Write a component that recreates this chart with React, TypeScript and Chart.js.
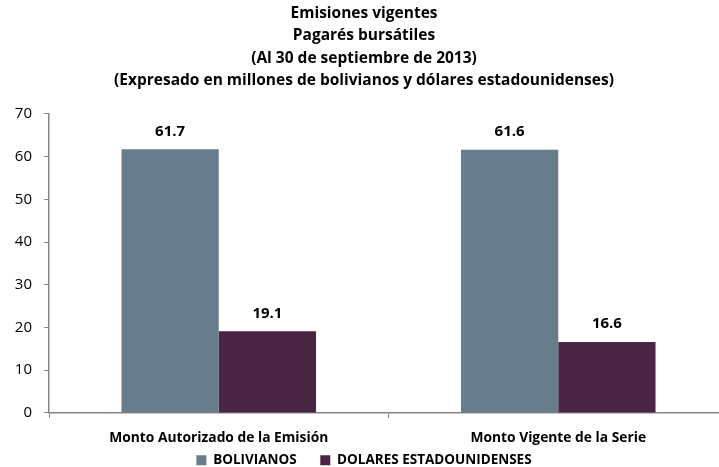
import React, { useEffect, useRef } from "react";
import { Chart, registerables } from "chart.js";

Chart.register(...registerables);

const categories = ["Monto Autorizado de la Emisión", "Monto Vigente de la Serie"];
const bolivianos = [61.7, 61.6];
const dolares = [19.1, 16.6];
const seriesNames = ["BOLIVIANOS", "DOLARES ESTADOUNIDENSES"];
const titleLines = [
  "Emisiones vigentes",
  "Pagarés bursátiles",
  "(Al 30 de septiembre de 2013)",
  "(Expresado en millones de bolivianos y dólares estadounidenses)",
];
const yTicks = [0, 10, 20, 30, 40, 50, 60, 70];

const FONT = "'Open Sans', Lato, sans-serif";
const AXIS_COLOR = "#878787";

const valueLabels = {
  id: "valueLabels",
  afterDatasetsDraw(chart: any) {
    const ctx = chart.ctx;
    ctx.save();
    ctx.font = `bold 15px ${FONT}`;
    ctx.fillStyle = "#000";
    ctx.textAlign = "center";
    ctx.textBaseline = "middle";
    chart.data.datasets.forEach((ds: any, di: number) => {
      const meta = chart.getDatasetMeta(di);
      meta.data.forEach((el: any, i: number) => {
        ctx.fillText(Number(ds.data[i]).toFixed(1), el.x, el.y - 18);
      });
    });
    ctx.restore();
  },
};

export default function App() {
  const ref = useRef<HTMLCanvasElement>(null);
  useEffect(() => {
    if (!ref.current) return;
    const chart = new Chart(ref.current, {
      type: "bar",
      data: {
        labels: categories,
        datasets: [
          {
            label: seriesNames[0],
            data: bolivianos,
            backgroundColor: "#687d8c",
            borderWidth: 0,
            categoryPercentage: 0.573,
            barPercentage: 1,
          },
          {
            label: seriesNames[1],
            data: dolares,
            backgroundColor: "#4a2644",
            borderWidth: 0,
            categoryPercentage: 0.573,
            barPercentage: 1,
          },
        ],
      },
      options: {
        animation: false,
        responsive: false,
        layout: { padding: { left: 0, right: 0, top: 0, bottom: 0 } },
        plugins: {
          tooltip: { enabled: false },
          title: {
            display: true,
            text: titleLines,
            color: "#000",
            font: { family: FONT, size: 15.5, weight: "bold", lineHeight: 1.45 },
            padding: { top: 2, bottom: 22 },
          },
          legend: {
            position: "bottom",
            labels: {
              color: "#000",
              font: { family: FONT, size: 13.5, weight: "bold" },
              boxWidth: 10,
              boxHeight: 10,
              padding: 6,
              generateLabels(chart: any) {
                const items = Chart.defaults.plugins.legend.labels.generateLabels(chart);
                return items.map((it: any, i: number) => ({
                  ...it,
                  text: i < items.length - 1 ? it.text + "\u00a0\u00a0\u00a0\u00a0\u00a0" : it.text,
                }));
              },
            },
          },
        },
        scales: {
          x: {
            afterFit(scale: any) {
              scale.height -= 11;
            },
            grid: {
              display: true,
              drawOnChartArea: false,
              offset: true,
              tickLength: 5,
              color: AXIS_COLOR,
            },
            border: { color: AXIS_COLOR, width: 1.5 },
            ticks: {
              color: "#000",
              font: { family: FONT, size: 13.8, weight: "bold" },
              padding: 12,
              maxRotation: 0,
            },
          },
          y: {
            min: 0,
            max: 70,
            afterBuildTicks(scale: any) {
              scale.ticks = yTicks.map((v) => ({ value: v }));
            },
            afterFit(scale: any) {
              scale.width = 49;
            },
            grid: {
              display: true,
              drawOnChartArea: false,
              tickLength: 5,
              color: AXIS_COLOR,
            },
            border: { color: AXIS_COLOR, width: 1.5 },
            ticks: {
              color: "#000",
              font: { family: FONT, size: 15 },
              padding: 12,
            },
          },
        },
      },
      plugins: [valueLabels],
    });
    return () => chart.destroy();
  }, []);
  return (
    <div
      style={{
        position: "fixed",
        left: 0,
        top: 0,
        width: 719,
        height: 467,
        overflow: "hidden",
        background: "#fff",
      }}
    >
      <canvas ref={ref} width={728} height={477} style={{ display: "block" }} />
    </div>
  );
}
